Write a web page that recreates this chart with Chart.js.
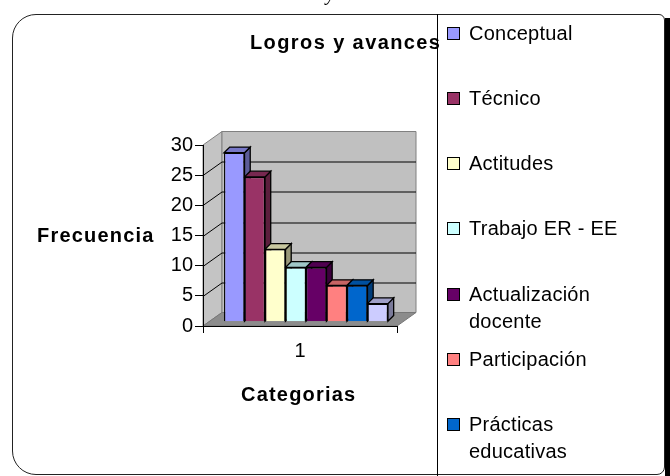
<!DOCTYPE html>
<html>
<head>
<meta charset="utf-8">
<script src="https://cdn.jsdelivr.net/npm/chart.js@4.4.1/dist/chart.umd.min.js"></script>
<style>
  html, body { margin: 0; padding: 0; background: #fff; }
  #page { position: relative; width: 670px; height: 476px; overflow: hidden;
    font-family: "Liberation Sans", Arial, sans-serif; color: #000; }
  #chart { position: absolute; left: 0; top: 0; }
  #frame { position: absolute; left: 12px; top: 14px; width: 653px; height: 461px;
    border: 1.5px solid #222; border-radius: 24px 6px 8px 24px; box-sizing: border-box; }
  #shadow { position: absolute; left: 665px; top: 18px; width: 5px; height: 458px; background: #000; }
  #divider { position: absolute; left: 437px; top: 14px; width: 1.2px; height: 462px; background: #000; }
  #caption { position: absolute; left: 326px; top: -17px; font-family: "Liberation Serif", serif;
    font-style: italic; font-size: 20px; line-height: 20px; }
  .lbl { position: absolute; font-weight: bold; font-size: 20px; letter-spacing: 1.2px;
    line-height: 20px; white-space: nowrap; }
  .leg { position: absolute; left: 447px; width: 215px; font-size: 20px; line-height: 27px;
    letter-spacing: 0.25px; }
  .leg i { position: absolute; left: 0; top: 7px; width: 13px; height: 13px;
    border: 1.5px solid #000; box-sizing: border-box; }
  .leg span { display: block; margin-left: 22px; width: 180px; }
</style>
</head>
<body>
<div id="page">
  <canvas id="chart" width="670" height="476"></canvas>
  <div id="frame"></div>
  <div id="shadow"></div>
  <div id="divider"></div>
  <div id="caption">y</div>
  <div class="lbl" style="left:250px;top:32px;letter-spacing:1.4px">Logros y avances</div>
  <div class="lbl" style="left:37px;top:225px">Frecuencia</div>
  <div class="lbl" style="left:241px;top:384px">Categorias</div>
  <div id="legend"></div>
</div>
<script>
// Logros y avances: frequency per category (3D clustered columns, one group)

const categories = ['1'];
const seriesNames = ['Conceptual', 'Técnico', 'Actitudes', 'Trabajo ER - EE',
    'Actualización docente', 'Participación', 'Prácticas educativas', 'Otros'];
const seriesValues = [28, 24, 12, 9, 9, 6, 6, 3];
const seriesColors = ['#9999FF', '#993366', '#FFFFCC', '#CCFFFF',
    '#660066', '#FF8080', '#0066CC', '#CCCCFF'];
const yTicks = [0, 5, 10, 15, 20, 25, 30];

const WALL = [19, -13.5];   // depth of the walls/floor
const BAR = [5.7, -5.7];    // depth of each column
const SHIFT = [6, -4.3];    // columns sit a bit inside the floor

function shade(hex, f) {
    const n = parseInt(hex.slice(1), 16);
    const r = Math.round(((n >> 16) & 255) * f);
    const g = Math.round(((n >> 8) & 255) * f);
    const b = Math.round((n & 255) * f);
    return 'rgb(' + r + ',' + g + ',' + b + ')';
}

function poly(ctx, pts, fill, stroke, lw) {
    ctx.beginPath();
    ctx.moveTo(pts[0][0], pts[0][1]);
    for (let i = 1; i < pts.length; i++) ctx.lineTo(pts[i][0], pts[i][1]);
    ctx.closePath();
    if (fill) { ctx.fillStyle = fill; ctx.fill(); }
    if (stroke) { ctx.strokeStyle = stroke; ctx.lineWidth = lw || 1; ctx.stroke(); }
}

// legend (last entry falls below the frame, as in the original)
const legend = document.getElementById('legend');
seriesNames.forEach(function (name, i) {
    const d = document.createElement('div');
    d.className = 'leg';
    d.style.top = (19.5 + i * 65.3) + 'px';
    d.innerHTML = '<i style="background:' + seriesColors[i] + '"></i><span>' + name + '</span>';
    legend.appendChild(d);
});

const box3d = {
    id: 'box3d',
    beforeDraw: function (chart) {
        const ctx = chart.ctx, a = chart.chartArea, y = chart.scales.y;
        const wx = WALL[0], wy = WALL[1];
        ctx.save();
        // left wall, back wall, floor
        poly(ctx, [[a.left, a.top], [a.left + wx, a.top + wy],
            [a.left + wx, a.bottom + wy], [a.left, a.bottom]], '#c4c4c4', '#808080');
        poly(ctx, [[a.left + wx, a.top + wy], [a.right + wx, a.top + wy],
            [a.right + wx, a.bottom + wy], [a.left + wx, a.bottom + wy]], '#c0c0c0', '#808080');
        poly(ctx, [[a.left, a.bottom], [a.left + wx, a.bottom + wy],
            [a.right + wx, a.bottom + wy], [a.right, a.bottom]], '#8c8c8c', '#777');
        // gridlines on side and back wall
        ctx.strokeStyle = '#000';
        ctx.lineWidth = 1;
        y.ticks.forEach(function (t) {
            if (t.value === y.min || t.value === y.max) return;
            const py = Math.round(y.getPixelForValue(t.value)) + 0.5;
            ctx.beginPath();
            ctx.moveTo(a.left, py);
            ctx.lineTo(a.left + wx, py + wy);
            ctx.lineTo(a.right + wx, py + wy);
            ctx.stroke();
        });
        ctx.restore();
    },
    beforeDatasetsDraw: function (chart) {
        const ctx = chart.ctx;
        const dx = BAR[0], dy = BAR[1];
        ctx.save();
        ctx.translate(SHIFT[0], SHIFT[1]);
        chart.data.datasets.forEach(function (ds, i) {
            chart.getDatasetMeta(i).data.forEach(function (bar) {
                const p = bar.getProps(['x', 'y', 'base', 'width'], true);
                const l = p.x - p.width / 2, r = p.x + p.width / 2;
                poly(ctx, [[r, p.y], [r + dx, p.y + dy], [r + dx, p.base + dy], [r, p.base]],
                    shade(seriesColors[i], 0.6), '#000', 1.3);
                poly(ctx, [[l, p.y], [l + dx, p.y + dy], [r + dx, p.y + dy], [r, p.y]],
                    shade(seriesColors[i], 0.78), '#000', 1.3);
            });
        });
    },
    afterDatasetsDraw: function (chart) {
        chart.ctx.restore();
    }
};

new Chart(document.getElementById('chart').getContext('2d'), {
    type: 'bar',
    data: {
        labels: categories,
        datasets: seriesNames.map(function (name, i) {
            return {
                label: name,
                data: [seriesValues[i]],
                backgroundColor: seriesColors[i],
                borderColor: '#000',
                borderWidth: 1.3,
                categoryPercentage: 0.845,
                barPercentage: 1.0
            };
        })
    },
    options: {
        responsive: false,
        devicePixelRatio: 1,
        animation: false,
        layout: { padding: { left: 143, right: 273, top: 145, bottom: 110 } },
        scales: {
            x: {
                grid: { drawOnChartArea: false, drawTicks: true, tickLength: 7, color: '#000' },
                border: { display: true, color: '#000', width: 1 },
                ticks: { color: '#000', padding: 6,
                    font: { family: '"Liberation Sans", Arial, sans-serif', size: 20 } },
                afterFit: function (s) { s.height = 40; }
            },
            y: {
                min: yTicks[0],
                max: yTicks[yTicks.length - 1],
                afterBuildTicks: function (s) {
                    s.ticks = yTicks.map(function (v) { return { value: v }; });
                },
                grid: { drawOnChartArea: false, drawTicks: true, tickLength: 8, color: '#000' },
                border: { display: true, color: '#000', width: 1 },
                ticks: { color: '#000', padding: 2,
                    font: { family: '"Liberation Sans", Arial, sans-serif', size: 20 } },
                afterFit: function (s) { s.width = 60; }
            }
        },
        plugins: {
            legend: { display: false },
            tooltip: { enabled: false }
        }
    },
    plugins: [box3d]
});
</script>
</body>
</html>
